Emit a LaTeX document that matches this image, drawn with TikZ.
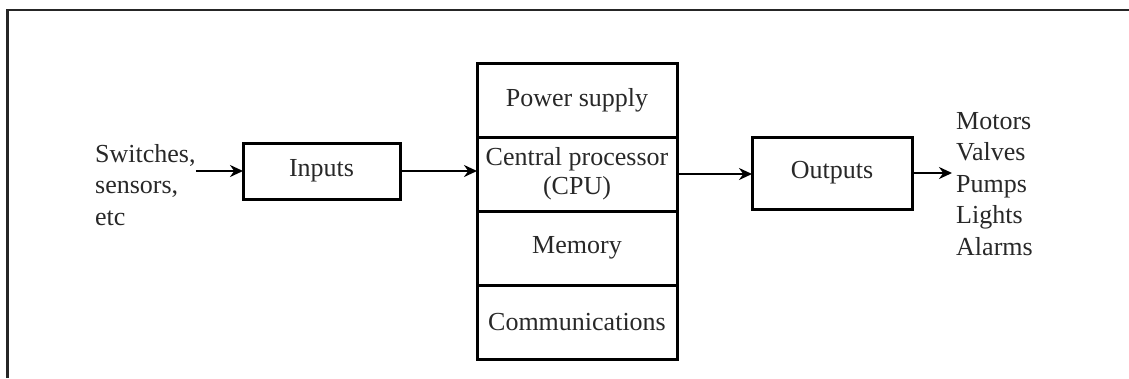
\documentclass[tikz,border=0pt]{standalone}
\usepackage{fontspec}
\setmainfont{Liberation Serif}
\usetikzlibrary{arrows.meta, positioning}
\definecolor{ink}{RGB}{40,40,40}

\begin{document}
\begin{tikzpicture}[x=1pt, y=-1pt,
  blk/.style={draw=black, line width=3pt, outer sep=0pt, inner sep=0pt,
              minimum width=157pt, minimum height=56pt,
              font=\fontsize{26}{31.5}\selectfont, text=ink},
  part/.style={draw=black, line width=3pt, outer sep=0pt, inner sep=0pt,
               minimum width=200pt, minimum height=74pt, align=center,
               font=\fontsize{26}{29}\selectfont, text=ink},
  lst/.style={font=\fontsize{26}{31.5}\selectfont, text=ink, align=left, inner sep=0pt},
  arr/.style={-{Stealth[length=13pt, width=12pt]}, line width=2.8pt}
]
\useasboundingbox (0,0) rectangle (1129,378);
\draw[line width=2.4pt, draw=black!85] (7.5,378) -- (7.5,10) -- (1129,10);

\node[part] (psu) at (577,100) {Power supply};
\node[part, below=0pt of psu] (cpu) {Central processor\\(CPU)};
\node[part, below=0pt of cpu] (mem) {Memory};
\node[part, below=0pt of mem] (comm) {Communications};

\node[blk] (inputs) at (321.5,171) {Inputs};
\node[blk, minimum width=160pt, minimum height=72pt] (outputs) at (832,173) {Outputs};

\node[lst, anchor=west] (src) at (95,185) {Switches,\\sensors,\\etc};
\node[lst, anchor=west] (sinks) at (956,184) {Motors\\Valves\\Pumps\\Lights\\Alarms};

\draw[arr] (src.east |- inputs.west) -- (inputs.west);
\draw[arr] (inputs.east) -- (cpu.west |- inputs.east);
\draw[arr] (cpu.east) -- (cpu.east -| outputs.west);
\draw[arr, shorten >=4pt] (outputs.east) -- (sinks.west |- outputs.east);
\end{tikzpicture}
\end{document}
